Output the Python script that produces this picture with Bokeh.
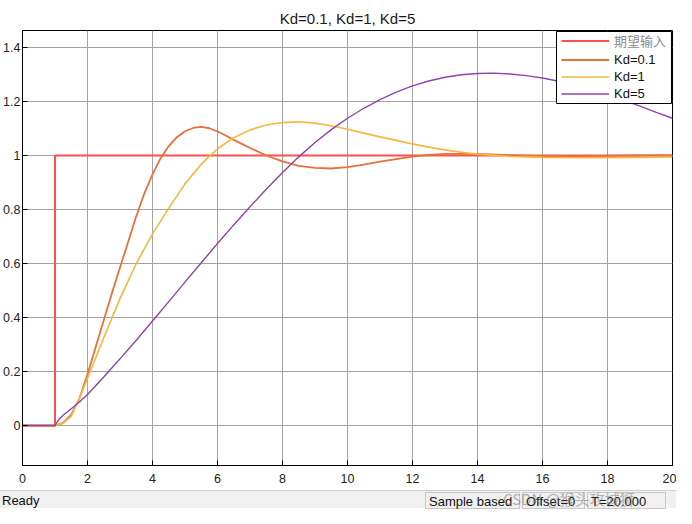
from bokeh.plotting import figure
from bokeh.models import (Range1d, Legend, LegendItem, NumeralTickFormatter,
                          FixedTicker, Div, BoxAnnotation)
from bokeh.layouts import column
from bokeh.embed import file_html
from bokeh.resources import INLINE

# ---------------- data ----------------
title_text = "Kd=0.1, Kd=1, Kd=5"
series_names = ["期望输入", "Kd=0.1", "Kd=1", "Kd=5"]

step_t = [0, 1, 20]
step_y = [0, 1, 1]

kd01_t = [0, 1, 1.25, 1.5, 1.75, 2.0, 2.25, 2.5, 2.75, 3.0, 3.25, 3.5, 3.75,
          4.0, 4.25, 4.5, 4.75, 5.0, 5.25, 5.5, 5.75, 6.0, 6.25, 6.5, 6.75,
          7.0, 7.5, 8.0, 8.5, 9.0, 9.5, 10, 10.5, 11, 11.5, 12, 12.5, 13, 14,
          15, 16, 17, 18, 19, 20]
kd01_y = [0, 0, 0.01, 0.04, 0.10, 0.19, 0.29, 0.39, 0.49, 0.585, 0.68, 0.775,
          0.86, 0.93, 0.99, 1.035, 1.068, 1.09, 1.102, 1.106, 1.101, 1.089,
          1.074, 1.058, 1.043, 1.028, 1.0, 0.978, 0.962, 0.954, 0.952, 0.957,
          0.966, 0.977, 0.987, 0.996, 1.002, 1.006, 1.006, 1.001, 0.998,
          0.998, 0.999, 1.0, 1.0]

kd1_t = [0, 1, 1.25, 1.5, 1.75, 2.0, 2.25, 2.5, 3.0, 3.5, 4.0, 4.5, 5.0, 5.5,
         6.0, 6.5, 7.0, 7.5, 8.0, 8.5, 9.0, 9.5, 10, 10.5, 11, 11.5, 12, 12.5,
         13, 13.5, 14, 15, 16, 17, 18, 19, 20]
kd1_y = [0, 0, 0.008, 0.035, 0.10, 0.175, 0.25, 0.325, 0.47, 0.60, 0.71,
         0.805, 0.895, 0.968, 1.025, 1.066, 1.095, 1.113, 1.122, 1.125, 1.12,
         1.11, 1.097, 1.083, 1.069, 1.056, 1.043, 1.031, 1.021, 1.012, 1.005,
         0.997, 0.993, 0.992, 0.992, 0.993, 0.995]

kd5_t = [0, 1, 1.1, 1.25, 1.5, 1.75, 2.0, 2.5, 3.0, 3.5, 4.0, 4.5, 5.0, 5.5,
         6.0, 6.5, 7.0, 7.5, 8.0, 8.5, 9.0, 9.5, 10, 10.5, 11, 11.5, 12, 12.5,
         13, 13.5, 14, 14.5, 15, 15.5, 16, 16.5, 17, 17.5, 18, 18.5, 19, 19.5,
         20]
kd5_y = [0, 0, 0.02, 0.038, 0.062, 0.087, 0.115, 0.18, 0.247, 0.316, 0.387,
         0.459, 0.531, 0.603, 0.674, 0.743, 0.81, 0.875, 0.937, 0.995, 1.048,
         1.096, 1.138, 1.175, 1.207, 1.235, 1.258, 1.276, 1.29, 1.299, 1.304,
         1.305, 1.302, 1.296, 1.287, 1.275, 1.26, 1.243, 1.224, 1.204, 1.183,
         1.16, 1.138]

x_ticks = [0, 2, 4, 6, 8, 10, 12, 14, 16, 18, 20]
y_ticks = [0, 0.2, 0.4, 0.6, 0.8, 1.0, 1.2, 1.4]

status_texts = ["Ready", "Sample based", "Offset=0", "T=20.000"]
watermark = "CSDN @猴头攻城狮"

# ---------------- figure ----------------
FONT = "Liberation Sans"
W, H = 676, 490
p = figure(width=W, height=H, x_range=Range1d(0, 20),
           y_range=Range1d(-0.148, 1.463), output_backend="svg",
           toolbar_location=None, min_border_left=22, min_border_right=4,
           min_border_top=30, min_border_bottom=25)
p.title.text = title_text
p.title.align = "center"
p.title.text_font = FONT
p.title.text_font_size = "15px"
p.title.text_font_style = "normal"
p.title.text_color = "#1a1a1a"
p.title.standoff = 7

p.background_fill_color = "white"
p.border_fill_color = "white"
p.outline_line_color = "black"
p.outline_line_alpha = 1

for ax in (p.xaxis[0], p.yaxis[0]):
    ax.axis_line_color = "black"
    ax.major_tick_in = 5
    ax.major_tick_out = 0
    ax.major_tick_line_color = "black"
    ax.minor_tick_line_color = None
    ax.major_label_text_font = FONT
    ax.major_label_text_font_size = "12.5px"
    ax.major_label_text_color = "#222222"
p.xaxis.ticker = FixedTicker(ticks=x_ticks)
p.yaxis.ticker = FixedTicker(ticks=y_ticks)
p.yaxis.formatter = NumeralTickFormatter(format="0.[0]")
p.xaxis.major_label_standoff = 8
p.yaxis.major_label_standoff = 2

p.xgrid.ticker = FixedTicker(ticks=x_ticks)
p.ygrid.ticker = FixedTicker(ticks=y_ticks)
for g in (p.xgrid[0], p.ygrid[0]):
    g.grid_line_color = "#a3a3a3"
    g.grid_line_alpha = 1
    g.grid_line_width = 1

r_step = p.step(step_t, step_y, mode="after", line_color="#ff5050",
                line_width=2)
r1 = p.line(kd01_t, kd01_y, line_color="#e8703a", line_width=1.8)
r2 = p.line(kd1_t, kd1_y, line_color="#f3b83c", line_width=1.6)
r3 = p.line(kd5_t, kd5_y, line_color="#8e44ad", line_width=1.4)

# legend frame (screen units relative to plot frame)
box = BoxAnnotation(left=534, right=649, bottom=362, top=434,
                    left_units="screen", right_units="screen",
                    bottom_units="screen", top_units="screen",
                    fill_color="white", fill_alpha=1, line_color="black",
                    line_width=1, line_alpha=1)
p.add_layout(box)

common = dict(border_line_alpha=0, background_fill_alpha=0, padding=0,
              margin=0, spacing=0, glyph_width=48, glyph_height=17,
              label_height=17, label_standoff=5,
              label_text_font=FONT + ", Noto Sans CJK SC",
              label_text_font_size="13px")
legA = Legend(items=[LegendItem(label=series_names[0], renderers=[r_step])],
              location=(539, 415), label_text_color="#8c8c8c", **common)
legB = Legend(items=[LegendItem(label=series_names[1], renderers=[r1]),
                     LegendItem(label=series_names[2], renderers=[r2]),
                     LegendItem(label=series_names[3], renderers=[r3])],
              location=(539, 363), label_text_color="#111111", **common)
p.add_layout(legA)
p.add_layout(legB)

# ---------------- status bar ----------------
panel = ("position:absolute;top:1px;height:17px;border:1px solid #c9c9c9;"
         "box-sizing:border-box;padding:0px 3px;white-space:nowrap;")
html = (
    "<div style=\"position:relative;width:676px;height:18px;background:#f0f0f0;"
    "border-top:1px solid #cfcfcf;box-sizing:border-box;font-family:'Liberation Sans',"
    "Arial,sans-serif;font-size:13px;color:#111;overflow:visible;\">"
    f"<span style=\"position:absolute;left:2px;top:1px;\">{status_texts[0]}</span>"
    f"<span style=\"{panel}left:425px;width:95px;\">{status_texts[1]}</span>"
    f"<span style=\"{panel}left:522px;width:63px;\">{status_texts[2]}</span>"
    f"<span style=\"{panel}left:587px;width:79px;\">{status_texts[3]}</span>"
    "<span style=\"position:absolute;left:503px;top:-3px;font-family:'Noto Sans CJK SC',"
    "'Liberation Sans',sans-serif;font-size:15px;color:rgba(120,120,120,0.55);"
    f"white-space:nowrap;\">{watermark}</span>"
    "</div>"
)
status = Div(text=html, width=W, height=18, margin=0)

layout = column(p, status, spacing=0)
open("out.html", "w").write(file_html(layout, INLINE))
